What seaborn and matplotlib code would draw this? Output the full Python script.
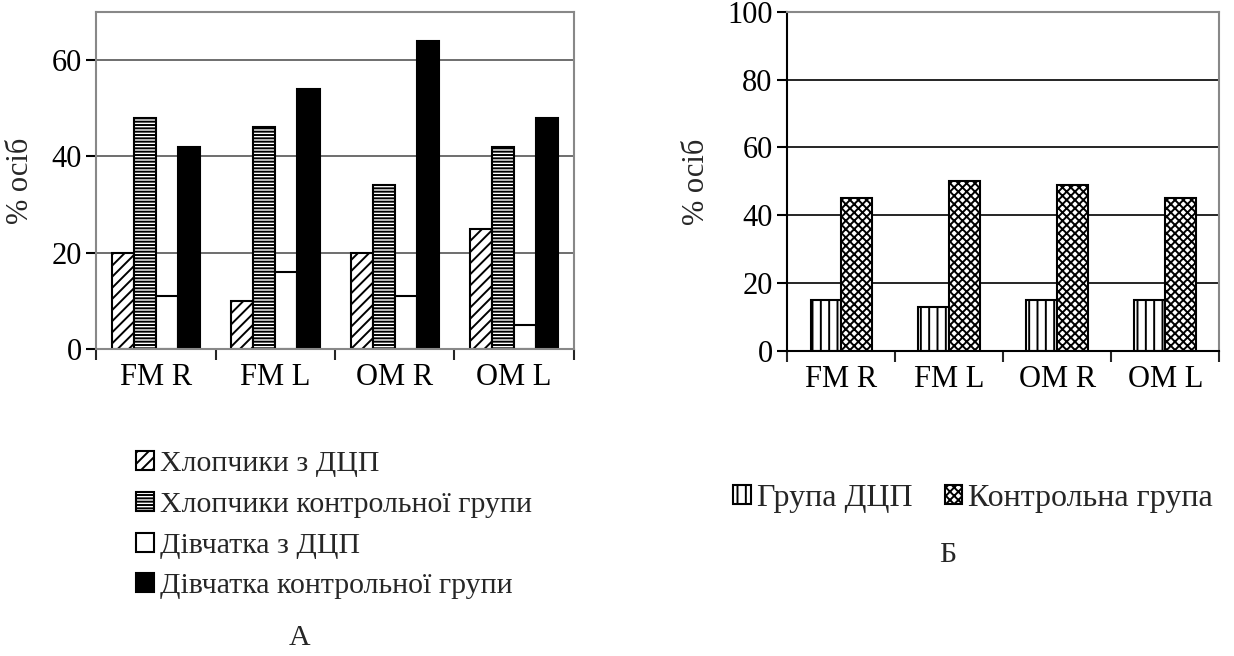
import numpy as np
import pandas as pd
import seaborn as sns
import matplotlib.pyplot as plt
from matplotlib.patches import Patch

# Data
categories = ['FM R', 'FM L', 'OM R', 'OM L']

left_groups = ['Хлопчики з ДЦП', 'Хлопчики контрольної групи',
               'Дівчатка з ДЦП', 'Дівчатка контрольної групи']
boys_cp = [20, 10, 20, 25]
boys_ctrl = [48, 46, 34, 42]
girls_cp = [11, 16, 11, 5]
girls_ctrl = [42, 54, 64, 48]

right_groups = ['Група ДЦП', 'Контрольна група']
group_cp = [15, 13, 15, 15]
group_ctrl = [45, 50, 49, 45]

sns.set_theme(style='white')
plt.rcParams['font.family'] = ['Liberation Serif', 'DejaVu Serif']
plt.rcParams['hatch.linewidth'] = 1.4

left_df = pd.DataFrame({
    'cat': categories * 4,
    'group': np.repeat(left_groups, 4),
    'val': boys_cp + boys_ctrl + girls_cp + girls_ctrl,
})
right_df = pd.DataFrame({
    'cat': categories * 2,
    'group': np.repeat(right_groups, 4),
    'val': group_cp + group_ctrl,
})

fig = plt.figure(figsize=(12.34, 6.56), dpi=100)
ax1 = fig.add_axes([0.078, 0.468, 0.387, 0.514])
ax2 = fig.add_axes([0.638, 0.465, 0.350, 0.517])

left_colors = ['white', 'white', 'white', 'black']
left_hatches = ['///', '-----', '', '']
sns.barplot(data=left_df, x='cat', y='val', hue='group', ax=ax1,
            palette=left_colors, width=0.74, edgecolor='black',
            linewidth=1.5, legend=False, saturation=1)
for cont, h in zip(ax1.containers, left_hatches):
    for bar in cont:
        bar.set_hatch(h)

right_colors = ['white', 'white']
right_hatches = ['||', 'xxxx']
sns.barplot(data=right_df, x='cat', y='val', hue='group', ax=ax2,
            palette=right_colors, width=0.57, edgecolor='black',
            linewidth=1.5, legend=False, saturation=1)
for cont, h in zip(ax2.containers, right_hatches):
    for bar in cont:
        bar.set_hatch(h)

for ax, ymax, step, gcol in [(ax1, 70, 20, '#555555'), (ax2, 100, 20, 'black')]:
    ax.set_ylim(0, ymax)
    ax.set_xlim(-0.5, 3.5)
    ax.set_yticks(np.arange(0, ymax + 1, step))
    ax.yaxis.grid(True, color=gcol, linewidth=1.2)
    ax.set_axisbelow(True)
    ax.set_xlabel('')
    ax.set_ylabel('% осіб', fontsize=22, labelpad=12)
    ax.tick_params(axis='both', labelsize=22, colors='black')
    ax.tick_params(axis='x', length=0, pad=10)
    ax.tick_params(axis='y', direction='out', length=7, width=1.5, left=True)
    ax.set_xticks([-0.5, 0.5, 1.5, 2.5, 3.5], minor=True)
    ax.tick_params(axis='x', which='minor', direction='out', length=8, width=1.5, bottom=True)
    for s in ['top', 'right']:
        ax.spines[s].set_color('#888888')
        ax.spines[s].set_linewidth(1.5)
    for s in ['left', 'bottom']:
        ax.spines[s].set_color('black')
        ax.spines[s].set_linewidth(1.5)
ax1.spines['left'].set_color('#888888')
ax1.spines['bottom'].set_color('#888888')

# Legends
lh = [Patch(facecolor=c, edgecolor='black', hatch=h, linewidth=1.5)
      for c, h in zip(left_colors, left_hatches)]
fig.legend(lh, left_groups, loc='upper left', bbox_to_anchor=(0.110, 0.313),
           frameon=False, fontsize=21.5, handlelength=0.6, handleheight=0.6,
           handletextpad=0.2, labelspacing=0.5, borderpad=0, borderaxespad=0)
rh = [Patch(facecolor=c, edgecolor='black', hatch=h, linewidth=1.5)
      for c, h in zip(right_colors, right_hatches)]
fig.legend(rh, right_groups, loc='upper left', bbox_to_anchor=(0.594, 0.262),
           frameon=False, fontsize=23, handlelength=0.55, handleheight=0.55,
           handletextpad=0.2, ncol=2, columnspacing=1.0, borderpad=0, borderaxespad=0)

fig.text(0.243, 0.027, 'А', fontsize=21.5, ha='center', va='center')
fig.text(0.768, 0.154, 'Б', fontsize=21.5, ha='center', va='center')

fig.savefig('out.png', dpi=100)
